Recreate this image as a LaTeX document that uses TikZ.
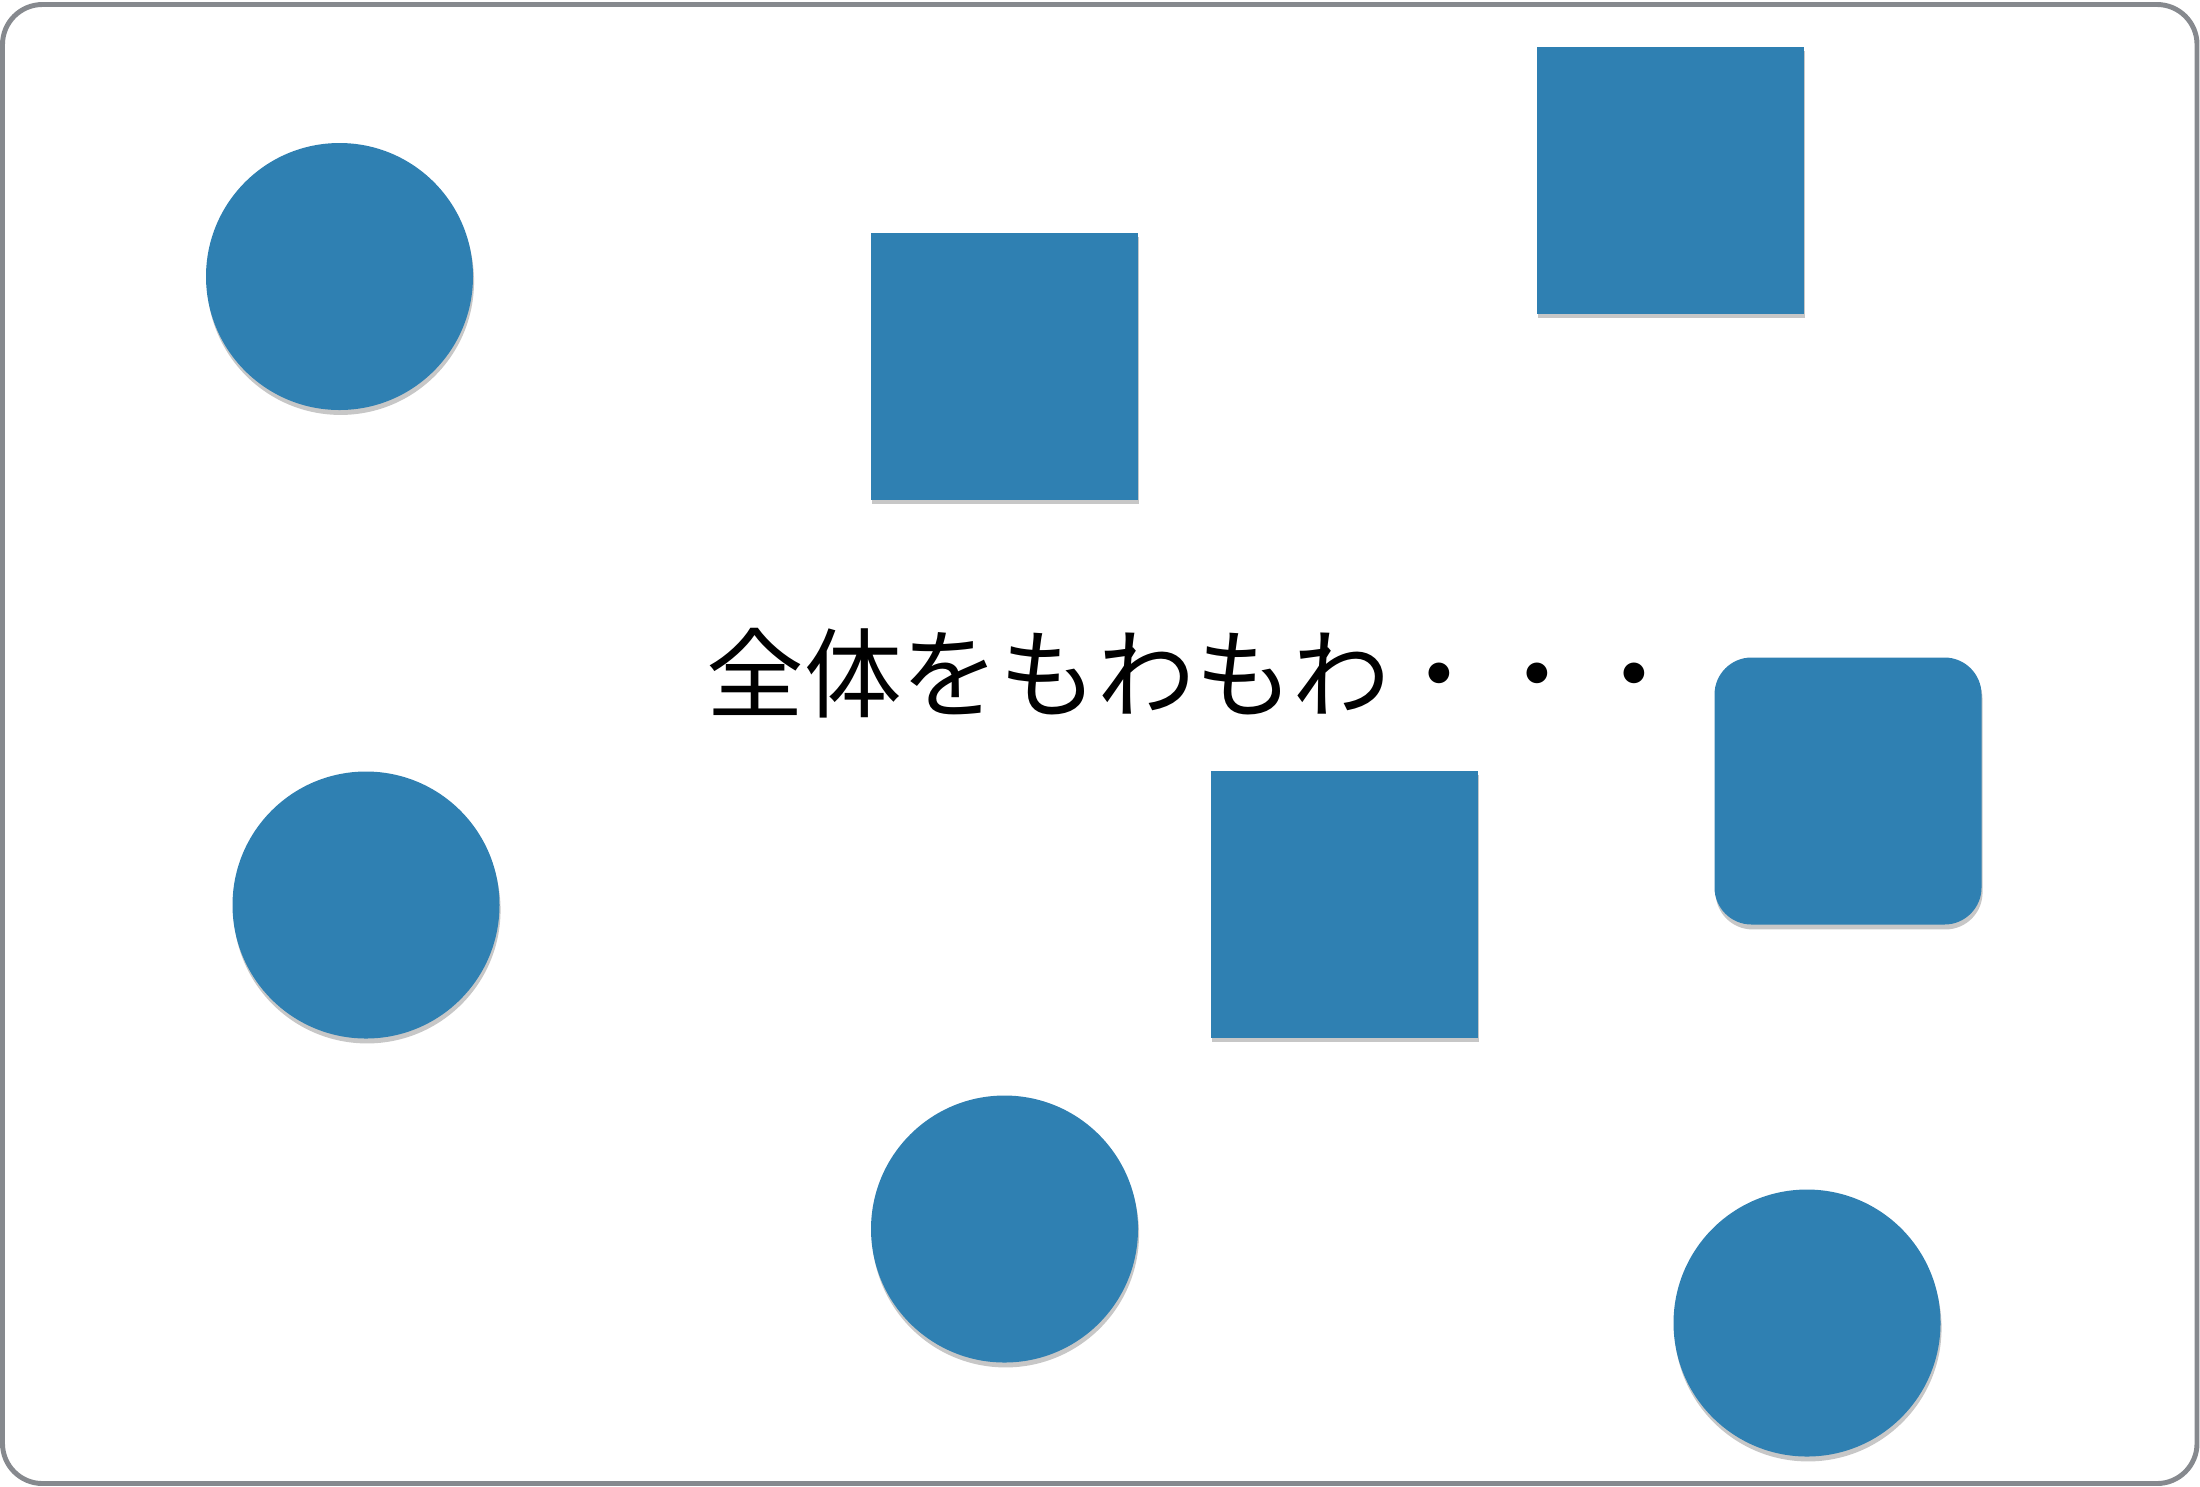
\documentclass[tikz,border=0pt]{standalone}
\usepackage{fontspec}
\newfontfamily\cjk{Noto Sans CJK JP}
\usetikzlibrary{shadows}
\definecolor{blob}{RGB}{47,128,178}
\definecolor{frame}{RGB}{134,137,142}
\tikzset{
  blobshape/.style={fill=blob, draw=none, inner sep=0pt, minimum size=2.67cm,
    drop shadow={shadow xshift=0.3pt, shadow yshift=-1.4pt, opacity=0.22, fill=black}},
  roundshape/.style={blobshape, circle},
  squareshape/.style={blobshape, rectangle},
  roundsquare/.style={blobshape, rectangle, rounded corners=0.37cm},
}
\begin{document}
\begin{tikzpicture}
\useasboundingbox (0,0) rectangle (22,-14.86);
\draw[frame, line width=1.4pt, rounded corners=0.4cm] (0.025,-0.045) rectangle (21.97,-14.835);
\node[roundshape] (c1) at (3.395,-2.765) {};
\node[squareshape] (s1) at (10.045,-3.66) {};
\node[squareshape] (s2) at (16.70,-1.80) {};
\node[roundsquare] (r1) at (18.48,-7.91) {};
\node[squareshape] (s3) at (13.44,-9.04) {};
\node[roundshape] (c2) at (3.66,-9.05) {};
\node[roundshape] (c3) at (10.045,-12.29) {};
\node[roundshape] (c4) at (18.07,-13.23) {};
\node[font=\cjk\fontsize{27.8}{34}\selectfont, inner sep=0pt] (t) at (11.95,-6.73) {全体をもわもわ・・・};
\end{tikzpicture}
\end{document}
